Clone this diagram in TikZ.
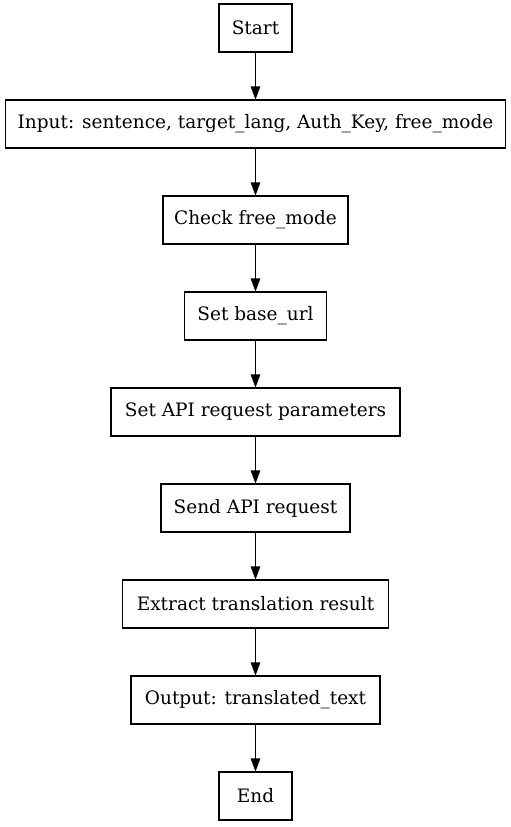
\documentclass[tikz,border=0pt]{standalone}
\usepackage{fontspec}
\setmainfont{DejaVu Serif}
\usetikzlibrary{arrows.meta, positioning}
\tikzset{
    stepbox/.style={rectangle, draw=black, line width=1.1pt, minimum height=48pt,
        inner sep=0pt, font=\fontsize{18.5}{22}\selectfont},
    flow/.style={-{Triangle[length=13pt, width=9.5pt]}, line width=1.1pt, black}
}

\begin{document}
\begin{tikzpicture}[x=1pt, y=1pt, node distance=46.9pt]
    \useasboundingbox (0,0) rectangle (511,-827);
    \node[stepbox, minimum width=73pt] (start) at (255.5,-28) {Start};
    \node[stepbox, minimum width=500pt, below=of start] (input) {Input: sentence, target\_lang, Auth\_Key, free\_mode};
    \node[stepbox, minimum width=185pt, below=of input] (check) {Check free\_mode};
    \node[stepbox, minimum width=142pt, below=of check] (baseurl) {Set base\_url};
    \node[stepbox, minimum width=289pt, below=of baseurl] (params) {Set API request parameters};
    \node[stepbox, minimum width=189pt, below=of params] (send) {Send API request};
    \node[stepbox, minimum width=266pt, below=of send] (extract) {Extract translation result};
    \node[stepbox, minimum width=249pt, below=of extract] (output) {Output: translated\_text};
    \node[stepbox, minimum width=73pt, below=of output] (end) {End};
    % connectors
    \foreach \a/\b in {start/input, input/check, check/baseurl, baseurl/params,
                       params/send, send/extract, extract/output, output/end}
        \draw[flow] (\a) -- (\b);
\end{tikzpicture}
\end{document}
